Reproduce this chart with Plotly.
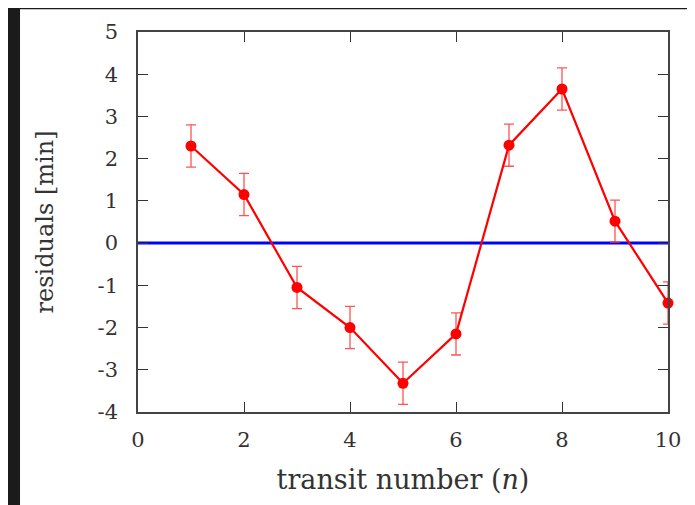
import plotly.graph_objects as go

# transit residuals
transit_n = [1, 2, 3, 4, 5, 6, 7, 8, 9, 10]
residuals = [2.3, 1.15, -1.05, -2.0, -3.32, -2.15, 2.32, 3.65, 0.52, -1.42]
res_err = [0.5, 0.5, 0.5, 0.5, 0.5, 0.5, 0.5, 0.5, 0.5, 0.5]

zero_x = [0, 10]
zero_y = [0, 0]

x_ticks = [0, 2, 4, 6, 8, 10]
y_ticks = [-4, -3, -2, -1, 0, 1, 2, 3, 4, 5]
y_tick_text = ["-4", "-3", "-2", "-1", "0", "1", "2", "3", "4", "5"]

FONT = "DejaVu Serif"
TXT = "#333333"

fig = go.Figure()

fig.add_trace(go.Scatter(
    x=zero_x, y=zero_y, mode="lines",
    line=dict(color="#0000ff", width=3),
    showlegend=False, hoverinfo="skip",
))

fig.add_trace(go.Scatter(
    x=transit_n, y=residuals, mode="lines+markers",
    line=dict(color="#ff0000", width=2.2),
    marker=dict(color="#ff0000", size=11),
    error_y=dict(type="data", array=res_err, color="rgba(255,40,40,0.8)",
                 thickness=1.3, width=5),
    cliponaxis=False, showlegend=False,
))

# white "page" on the dark backdrop
fig.add_shape(type="rect", xref="paper", yref="paper",
              x0=-0.2226, x1=1.0453, y0=-0.3, y1=1.06,
              fillcolor="white", line_width=0, layer="below")

axis_style = dict(
    showgrid=False, zeroline=False,
    showline=True, linecolor="#444444", linewidth=1.5, mirror="ticks",
    ticks="inside", ticklen=10, tickwidth=1.2, tickcolor="#333333",
    tickfont=dict(family=FONT, size=21, color=TXT),
)

fig.update_xaxes(range=[0, 10], tickvals=x_ticks, ticklabelstandoff=8,
                 title=dict(text="transit number (<i>n</i>)",
                            font=dict(family=FONT, size=27, color=TXT),
                            standoff=19),
                 **axis_style)
fig.update_yaxes(range=[-4, 5], tickvals=y_ticks, ticktext=y_tick_text,
                 ticklabelstandoff=14,
                 title=dict(text="residuals [min]",
                            font=dict(family=FONT, size=24, color=TXT),
                            standoff=37),
                 **axis_style)

fig.update_layout(
    width=695, height=505,
    margin=dict(l=130, r=35, t=21, b=101),
    paper_bgcolor="#1b1b1b", plot_bgcolor="white",
)

fig.write_html("out.html")
